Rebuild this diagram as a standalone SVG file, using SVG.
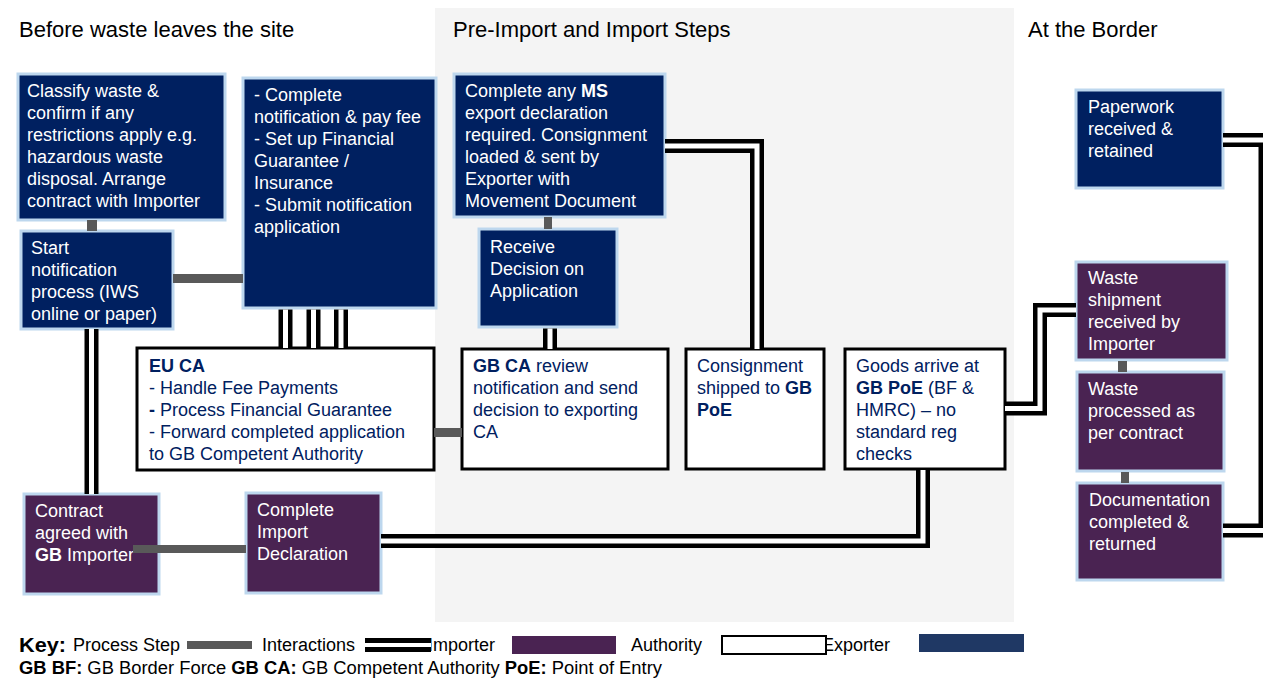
<svg xmlns="http://www.w3.org/2000/svg" width="1263" height="679" viewBox="0 0 1263 679">
<style>
text{font-family:"Liberation Sans",Arial,sans-serif;font-size:18px}
.title{font-size:22px;fill:#000}
.exp{fill:#002060;stroke:#BDD7EE;stroke-width:3}
.imp{fill:#4A2352;stroke:#BDD7EE;stroke-width:3}
.auth{fill:#fff;stroke:#000;stroke-width:3}
.lt{fill:#fff}
.dt{fill:#002060}
.b{font-weight:bold}
.dbo{fill:none;stroke:#000;stroke-width:14;stroke-linejoin:miter}
.dbi{fill:none;stroke:#fff;stroke-width:5;stroke-linejoin:miter}
.ps{fill:#595959}
</style>
<rect x="435" y="8" width="579" height="614" fill="#F4F4F4"/>
<text class="title" x="19" y="37">Before waste leaves the site</text>
<text class="title" x="453" y="37">Pre-Import and Import Steps</text>
<text class="title" x="1028" y="37">At the Border</text>

<g id="n-classify"><rect class="exp" x="18" y="74" width="207" height="146"/>
<text class="lt"><tspan x="27" y="97">Classify waste &amp;</tspan><tspan x="27" y="119">confirm if any</tspan><tspan x="27" y="141">restrictions apply e.g.</tspan><tspan x="27" y="163">hazardous waste</tspan><tspan x="27" y="185">disposal. Arrange</tspan><tspan x="27" y="207">contract with Importer</tspan></text></g>
<g id="n-start"><rect class="exp" x="21" y="231" width="152" height="98"/>
<text class="lt"><tspan x="31" y="254">Start</tspan><tspan x="31" y="276">notification</tspan><tspan x="31" y="298">process (IWS</tspan><tspan x="31" y="320">online or paper)</tspan></text></g>
<g id="n-notif"><rect class="exp" x="243" y="78" width="193" height="230"/>
<text class="lt"><tspan x="254" y="101">- Complete</tspan><tspan x="254" y="123">notification &amp; pay fee</tspan><tspan x="254" y="145">- Set up Financial</tspan><tspan x="254" y="167">Guarantee /</tspan><tspan x="254" y="189">Insurance</tspan><tspan x="254" y="211">- Submit notification</tspan><tspan x="254" y="233">application</tspan></text></g>
<g id="n-ms"><rect class="exp" x="454" y="74" width="211" height="143"/>
<text class="lt"><tspan x="465" y="97">Complete any <tspan class="b">MS</tspan></tspan><tspan x="465" y="119">export declaration</tspan><tspan x="465" y="141">required. Consignment</tspan><tspan x="465" y="163">loaded &amp; sent by</tspan><tspan x="465" y="185">Exporter with</tspan><tspan x="465" y="207">Movement Document</tspan></text></g>
<g id="n-receive"><rect class="exp" x="479" y="229" width="138" height="98"/>
<text class="lt"><tspan x="490" y="253">Receive</tspan><tspan x="490" y="275">Decision on</tspan><tspan x="490" y="297">Application</tspan></text></g>
<g id="n-euca"><rect class="auth" x="137" y="348" width="297" height="122"/>
<text class="dt"><tspan x="149" y="372" class="b">EU CA</tspan><tspan x="149" y="394">- Handle Fee Payments</tspan><tspan x="149" y="416"><tspan class="b">-</tspan> Process Financial Guarantee</tspan><tspan x="149" y="438">- Forward completed application</tspan><tspan x="149" y="460">to GB Competent Authority</tspan></text></g>
<g id="n-gbca"><rect class="auth" x="462" y="349" width="206" height="120"/>
<text class="dt"><tspan x="473" y="372"><tspan class="b">GB CA</tspan> review</tspan><tspan x="473" y="394">notification and send</tspan><tspan x="473" y="416">decision to exporting</tspan><tspan x="473" y="438">CA</tspan></text></g>
<g id="n-consign"><rect class="auth" x="686" y="349" width="138" height="120"/>
<text class="dt"><tspan x="697" y="372">Consignment</tspan><tspan x="697" y="394">shipped to <tspan class="b">GB</tspan></tspan><tspan x="697" y="416" class="b">PoE</tspan></text></g>
<g id="n-goods"><rect class="auth" x="845" y="349" width="160" height="120"/>
<text class="dt"><tspan x="856" y="372">Goods arrive at</tspan><tspan x="856" y="394"><tspan class="b">GB PoE</tspan> (BF &amp;</tspan><tspan x="856" y="416">HMRC) – no</tspan><tspan x="856" y="438">standard reg</tspan><tspan x="856" y="460">checks</tspan></text></g>
<g id="n-contract"><rect class="imp" x="24" y="494" width="135" height="100"/>
<text class="lt"><tspan x="35" y="517">Contract</tspan><tspan x="35" y="539">agreed with</tspan><tspan x="35" y="561"><tspan class="b">GB</tspan> Importer</tspan></text></g>
<g id="n-import"><rect class="imp" x="246" y="493" width="135" height="100"/>
<text class="lt"><tspan x="257" y="516">Complete</tspan><tspan x="257" y="538">Import</tspan><tspan x="257" y="560">Declaration</tspan></text></g>
<g id="n-paperwork"><rect class="exp" x="1076" y="90" width="147" height="98"/>
<text class="lt"><tspan x="1088" y="113">Paperwork</tspan><tspan x="1088" y="135">received &amp;</tspan><tspan x="1088" y="157">retained</tspan></text></g>
<g id="n-wship"><rect class="imp" x="1076" y="262" width="151" height="98"/>
<text class="lt"><tspan x="1088" y="284">Waste</tspan><tspan x="1088" y="306">shipment</tspan><tspan x="1088" y="328">received by</tspan><tspan x="1088" y="350">Importer</tspan></text></g>
<g id="n-wproc"><rect class="imp" x="1077" y="372" width="147" height="99"/>
<text class="lt"><tspan x="1088" y="395">Waste</tspan><tspan x="1088" y="417">processed as</tspan><tspan x="1088" y="439">per contract</tspan></text></g>
<g id="n-doc"><rect class="imp" x="1077" y="483" width="146" height="97"/>
<text class="lt"><tspan x="1089" y="506">Documentation</tspan><tspan x="1089" y="528">completed &amp;</tspan><tspan x="1089" y="550">returned</tspan></text></g>

<g id="connectors">
<rect class="ps" x="87" y="220" width="10" height="11"/>
<rect class="ps" x="173" y="274" width="70" height="9"/>
<rect class="ps" x="544" y="217" width="8" height="12"/>
<rect class="ps" x="434" y="428" width="28" height="9"/>
<rect class="ps" x="133" y="545" width="113" height="8"/>
<rect class="ps" x="1118" y="361" width="9" height="11"/>
<rect class="ps" x="1121" y="472" width="8" height="11"/>
<path class="dbo" d="M91.5 329V494M285.5 309.5V348M313.5 309.5V348M341 309.5V348M550 328.5V349M665 146H757V349M381 541H923V470M1005 408.5H1040V310H1076M1223 140H1265.5V530.5H1223"/>
<path class="dbi" d="M91.5 329V494M285.5 309.5V348M313.5 309.5V348M341 309.5V348M550 328.5V349M665 146H757V349M381 541H923V470M1005 408.5H1040V310H1076M1223 140H1265.5V530.5H1223"/>
</g>

<g id="key">
<text x="19" y="652" class="b" style="font-size:21px" textLength="47" lengthAdjust="spacingAndGlyphs">Key:</text>
<text x="73" y="651">Process Step</text>
<rect class="ps" x="187" y="641" width="65" height="8"/>
<text x="262" y="651">Interactions</text>
<text x="428" y="651">Importer</text>
<rect x="365" y="638" width="66" height="14" fill="#000"/>
<rect x="365" y="643" width="66" height="4" fill="#fff"/>
<rect x="512" y="636" width="104" height="18" fill="#4A2352"/>
<text x="631" y="651">Authority</text>
<text x="822" y="651">Exporter</text>
<rect x="722" y="636" width="104" height="18" fill="#fff" stroke="#000" stroke-width="2"/>
<rect x="919" y="634" width="105" height="18" fill="#1F3864"/>
<text x="19" y="674" textLength="643" lengthAdjust="spacingAndGlyphs"><tspan class="b">GB BF:</tspan> GB Border Force <tspan class="b">GB CA:</tspan> GB Competent Authority <tspan class="b">PoE:</tspan> Point of Entry</text>
</g>
</svg>
